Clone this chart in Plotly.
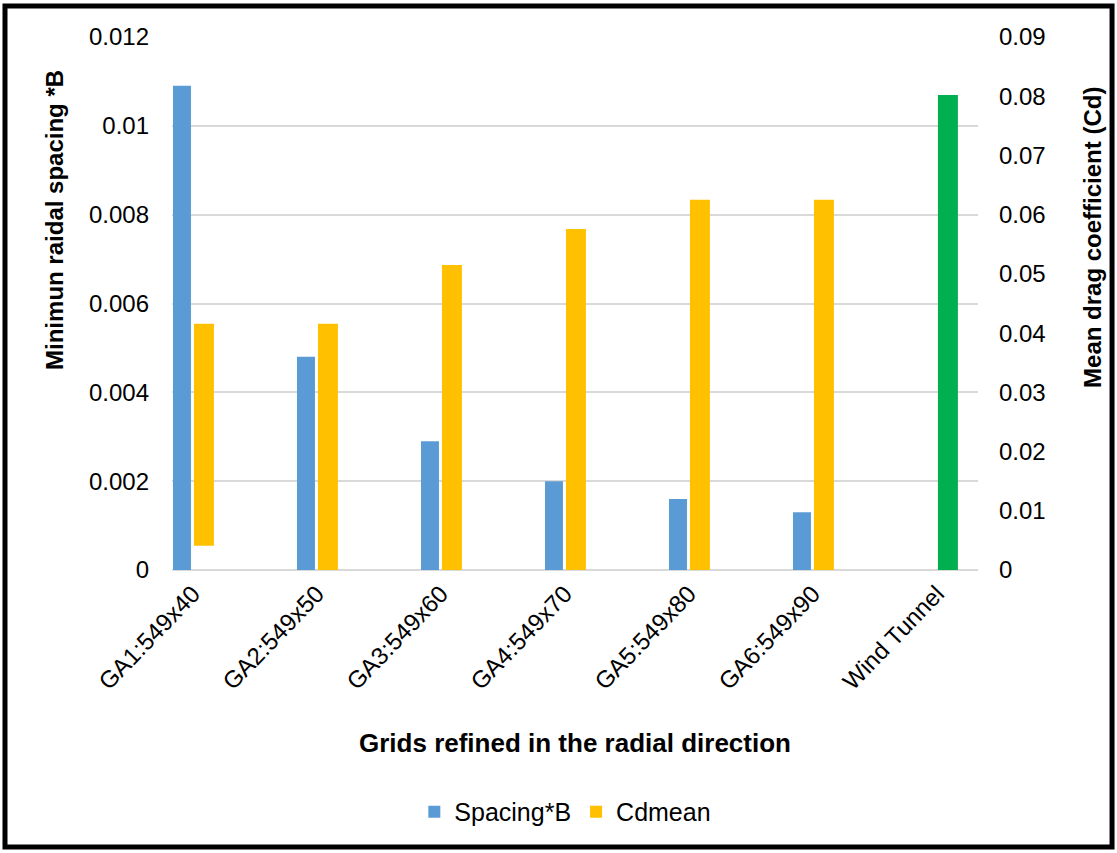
import plotly.graph_objects as go

categories = ["GA1:549x40", "GA2:549x50", "GA3:549x60", "GA4:549x70",
              "GA5:549x80", "GA6:549x90", "Wind Tunnel"]
spacing_b = [0.0109, 0.0048, 0.0029, 0.0020, 0.0016, 0.0013, None]
cd_top = [0.0416, 0.0416, 0.0515, 0.0576, 0.0625, 0.0625, 0.0802]
cd_base = [0.0041, -0.0003, 0, 0, 0, 0, 0]
cd_colors = ["#FFC000"] * 6 + ["#00B050"]

FONT = "Liberation Sans, Arial, sans-serif"
cd_len = [t - b for t, b in zip(cd_top, cd_base)]

fig = go.Figure()
fig.add_trace(go.Bar(
    x=categories, y=spacing_b, name="Spacing*B",
    marker=dict(color="#5B9BD5", line=dict(width=0)),
    width=0.145, offset=-0.161, yaxis="y",
))
fig.add_trace(go.Bar(
    x=categories, y=cd_len, base=cd_base, name="Cdmean",
    marker=dict(color=cd_colors, line=dict(width=0)),
    width=0.161, offset=0.008, yaxis="y2",
))

fig.update_layout(
    width=1117, height=853,
    margin=dict(l=172, r=139, t=37, b=283),
    paper_bgcolor="white", plot_bgcolor="white",
    font=dict(family=FONT, size=24, color="#000000"),
    barmode="overlay",
    showlegend=True,
    legend=dict(orientation="h", x=0.488, xanchor="center", y=-0.454, yanchor="middle",
                font=dict(size=25), itemwidth=30, traceorder="normal"),
    xaxis=dict(type="category", range=[-0.169, 6.331], tickangle=-46,
               showgrid=False, showline=False, zeroline=False,
               tickfont=dict(size=24), ticks="", ticklabelstandoff=4),
    yaxis=dict(range=[0, 0.012], dtick=0.002, tickformat="~g",
               showgrid=True, gridcolor="#D9D9D9", gridwidth=1.5,
               zeroline=True, zerolinecolor="#D9D9D9", zerolinewidth=1.5,
               showline=False, ticks="", ticklabelstandoff=22,
               tickfont=dict(size=24)),
    yaxis2=dict(range=[0, 0.09], dtick=0.01, tickformat="~g", overlaying="y", side="right",
                showgrid=False, zeroline=False, showline=False, ticks="",
                ticklabelstandoff=20, tickfont=dict(size=24)),
    annotations=[
        dict(text="<b>Minimun raidal spacing *B</b>", xref="paper", yref="paper",
             x=-0.1452, y=0.6567, textangle=-90, showarrow=False,
             xanchor="center", yanchor="middle", font=dict(size=24)),
        dict(text="<b>Mean drag coefficient (Cd)</b>", xref="paper", yref="paper",
             x=1.1427, y=0.623, textangle=-90, showarrow=False,
             xanchor="center", yanchor="middle", font=dict(size=24)),
        dict(text="<b>Grids refined in the radial direction</b>", xref="paper", yref="paper",
             x=0.5, y=-0.3246, showarrow=False, xanchor="center", yanchor="middle",
             font=dict(size=26)),
    ],
    shapes=[dict(type="rect", xref="paper", yref="paper",
                 x0=-0.2072, x1=1.1663, y0=-0.5197, y1=1.0582,
                 line=dict(color="black", width=5), fillcolor="rgba(0,0,0,0)")],
)

fig.write_html("out.html", config={"displayModeBar": False},
               post_script="document.body.style.margin='0';document.body.style.overflow='hidden';")
